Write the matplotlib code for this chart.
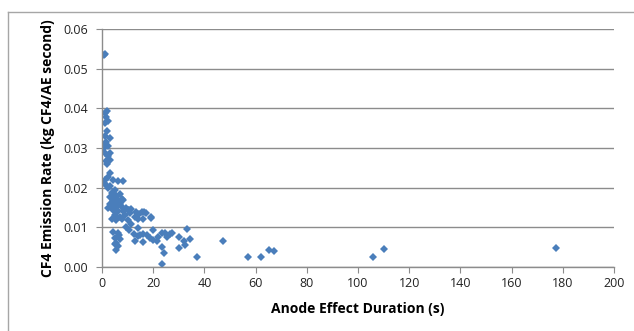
import matplotlib
matplotlib.use("Agg")
from matplotlib import pyplot
from matplotlib.lines import Line2D

# anode effect duration (s) and CF4 emission rate (kg CF4 / AE second)
duration = [
    0.9, 1.0,
    2.1, 1.05, 1.7, 2.3, 1.05, 2.1, 1.05, 3.0, 1.7, 1.05, 2.3,
    1.05, 2.3, 3.0, 1.7, 3.0, 1.8, 0.9,
    3.0, 2.3, 4.3, 1.05, 1.7, 6.25, 8.2, 0.9, 2.2,
    3.0, 5.0, 3.7, 5.6, 4.3, 6.3, 3.0, 5.0, 6.9, 8.2, 3.7, 5.6, 7.6, 9.5,
    2.4, 4.3, 6.3, 8.2, 10.2, 5.0, 6.9, 8.9, 10.8, 3.7, 5.6, 7.6,
    4.3, 6.9, 3.0, 5.6, 7.6,
    10.7, 11.3, 13.3, 14.6, 16.5, 19.1, 10.2, 12.8, 14.1,
    15.5, 17.2, 15.9, 19.0, 14.8, 16.1, 17.5, 18.75, 20.0, 20.0, 21.4,
    22.0, 23.3, 24.6, 25.3, 26.6, 27.2, 23.3, 24.2, 23.3,
    9.3, 10.6, 12.6, 13.9, 15.8, 11.3, 12.8, 14.1,
    4.3, 6.3, 5.0, 6.9, 5.6, 6.3, 5.0, 5.4, 6.6,
    30.2, 30.2, 32.0, 33.1, 34.4, 32.4, 37.2, 47.1,
    57.2, 62.1, 65.1, 67.3, 106.0, 110.2, 177.2,
]
emission = [
    0.0534, 0.0538,
    0.0392, 0.0388, 0.0379, 0.0367, 0.0363, 0.0344, 0.0329, 0.0325, 0.0316, 0.0308, 0.0304,
    0.0287, 0.0279, 0.0270, 0.0266, 0.0287, 0.0260, 0.0300,
    0.0237, 0.0228, 0.0220, 0.0220, 0.0207, 0.0216, 0.0216, 0.0212, 0.0200,
    0.0203, 0.0195, 0.0186, 0.0178, 0.0169, 0.0169, 0.0160, 0.0160, 0.0160, 0.0169, 0.0152, 0.0152, 0.0152, 0.0148,
    0.0148, 0.0144, 0.0140, 0.0140, 0.0144, 0.0130, 0.0127, 0.0130, 0.0135, 0.0122, 0.0119, 0.0122,
    0.0190, 0.0185, 0.0176, 0.0178, 0.0172,
    0.0143, 0.0147, 0.0139, 0.0134, 0.0139, 0.0124, 0.0118, 0.0126, 0.0120,
    0.0139, 0.0137, 0.0120, 0.0125, 0.0081, 0.0064, 0.0081, 0.0072, 0.0093, 0.0068, 0.0066,
    0.0076, 0.0085, 0.0086, 0.0076, 0.0082, 0.0085, 0.0051, 0.0035, 0.0008,
    0.0100, 0.0092, 0.0083, 0.0078, 0.0082, 0.0108, 0.0065, 0.0098,
    0.0089, 0.0086, 0.0072, 0.0070, 0.0061, 0.0052, 0.0058, 0.0042, 0.0080,
    0.0076, 0.0047, 0.0066, 0.0095, 0.0070, 0.0055, 0.0026, 0.0066,
    0.0025, 0.0025, 0.0042, 0.0041, 0.0025, 0.0046, 0.0048,
]

x_ticks = [0, 20, 40, 60, 80, 100, 120, 140, 160, 180, 200]
y_ticks = [0.00, 0.01, 0.02, 0.03, 0.04, 0.05, 0.06]

pyplot.rcParams['font.family'] = ['Open Sans', 'DejaVu Sans']

fig = pyplot.figure(figsize=(6.34, 3.31), dpi=100)
ax = fig.add_axes([0.161, 0.1934, 0.8075, 0.719])

ax.plot(duration, emission, linestyle="none", marker="D", markersize=3.8,
        color="#4a7ebb", markeredgewidth=0)

ax.set_xlim(0, 200)
ax.set_ylim(0, 0.06)
ax.set_xticks(x_ticks)
ax.set_yticks(y_ticks)
ax.set_yticklabels(["%.2f" % v for v in y_ticks])
ax.grid(axis="y", color="#8c8c8c", linewidth=1.0)
ax.set_axisbelow(True)
for side in ("top", "right"):
    ax.spines[side].set_visible(False)
for side in ("left", "bottom"):
    ax.spines[side].set_color("#8c8c8c")
    ax.spines[side].set_linewidth(1.0)
ax.tick_params(axis="both", colors="#8c8c8c", labelcolor="#222222",
               labelsize=9, length=4, direction="out")
ax.tick_params(axis="y", pad=6)

ax.set_xlabel("Anode Effect Duration (s)", fontsize=10, fontweight="bold", labelpad=8)
ax.set_ylabel("CF4 Emission Rate (kg CF4/AE second)", fontsize=10,
              fontweight="bold", labelpad=6)

# outer chart frame (left and top edges only are in view)
frame = dict(color="#a6a6a6", linewidth=1.0, transform=fig.transFigure)
fig.add_artist(Line2D([8 / 634, 8 / 634], [0, 1 - 12 / 331], **frame))
fig.add_artist(Line2D([8 / 634, 1.0], [1 - 12 / 331, 1 - 12 / 331], **frame))

pyplot.savefig("out.png", dpi=100)
